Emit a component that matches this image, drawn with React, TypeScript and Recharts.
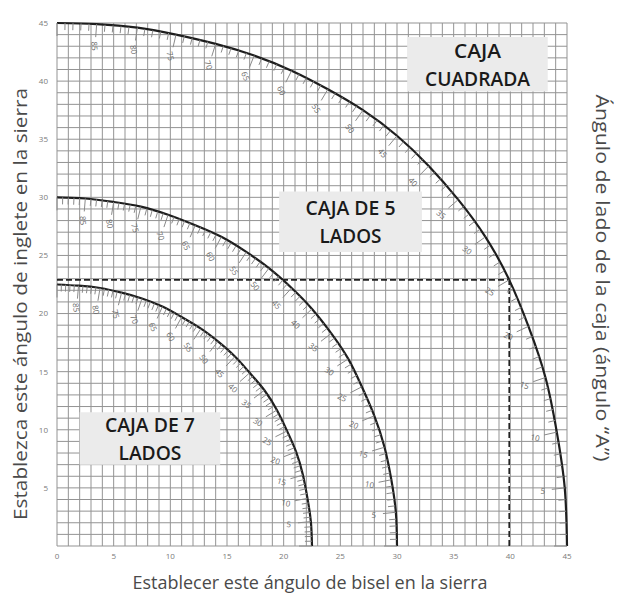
import React from 'react';
import {
    ComposedChart,
    XAxis,
    YAxis,
    CartesianGrid,
    Line,
    Scatter,
    ReferenceArea,
    ReferenceLine,
} from 'recharts';

const W = 620;
const H = 598;
const PLOT_W = 510;
const PLOT_H = 523;
const AXIS_MAX = 45;
const KX = PLOT_W / AXIS_MAX;
const KY = PLOT_H / AXIS_MAX;

const TICK_GRAY = '#7a7a7a';
const CURVE_DARK = '#1e1e1e';
const FONT = "'Open Sans', 'Noto Sans', sans-serif";

// grid every degree, labels every 5
const gridTicks = Array.from({ length: AXIS_MAX + 1 }, (_, i) => i);
const bottomLabels = [0, 5, 10, 15, 20, 25, 30, 35, 40, 45];
const topLabels = [0, 5, 10, 15, 20, 25, 30, 35, 40, 45];
const leftLabels = [5, 10, 15, 20, 25, 30, 35, 40, 45];
const rightLabels = [5, 10, 15, 20, 25, 30, 35, 40];

// side angle "A" of the box at each marked point of the curves
const sideAngles = [0, 5, 10, 15, 20, 25, 30, 35, 40, 45, 50, 55, 60, 65, 70, 75, 80, 85, 90];

// bevel (x) / miter (y) at those angles
const squareBevel = [45, 44.8, 44.1, 43.1, 41.6, 39.9, 37.8, 35.4, 32.8, 30.0, 27.0, 23.9, 20.7, 17.4, 14.0, 10.5, 7.1, 3.5, 0];
const squareMiter = [0, 5.0, 9.8, 14.5, 18.9, 22.9, 26.6, 29.8, 32.7, 35.3, 37.5, 39.3, 40.9, 42.2, 43.2, 44.0, 44.6, 44.9, 45];
const fiveBevel = [30, 29.9, 29.5, 28.9, 28.0, 26.9, 25.7, 24.2, 22.5, 20.7, 18.7, 16.7, 14.5, 12.2, 9.8, 7.4, 5.0, 2.5, 0];
const fiveMiter = [0, 2.9, 5.7, 8.5, 11.2, 13.7, 16.1, 18.3, 20.4, 22.2, 23.9, 25.3, 26.6, 27.6, 28.5, 29.2, 29.6, 29.9, 30];
const sevenBevel = [22.5, 22.4, 22.1, 21.7, 21.1, 20.3, 19.4, 18.3, 17.0, 15.7, 14.2, 12.7, 11.0, 9.3, 7.5, 5.7, 3.8, 1.9, 0];
const sevenMiter = [0, 2.1, 4.1, 6.1, 8.1, 9.9, 11.7, 13.4, 14.9, 16.3, 17.6, 18.7, 19.7, 20.6, 21.3, 21.8, 22.2, 22.4, 22.5];

// the worked example (dashed guide)
const guideBevel = 39.9;
const guideMiter = 22.9;

// label boxes: [x1, x2, y1, y2]
const squareBox = [30.9, 43.3, 39.1, 43.8];
const fiveBox = [19.6, 32.2, 25.3, 30.5];
const sevenBox = [2.0, 14.4, 7.0, 11.5];

const squareText = ['CAJA', 'CUADRADA'];
const fiveText = ['CAJA DE 5', 'LADOS'];
const sevenText = ['CAJA DE 7', 'LADOS'];
// printed width of each line, px
const squareTextWidth = [47, 105];
const fiveTextWidth = [90, 62];
const sevenTextWidth = [90, 63];

type Pt = { x: number; y: number; a: number; major: boolean };

// angle scale along a curve (minor ticks between the read points)
function sideAngleScale(halfAngle: number, a: number) {
    const rad = Math.PI / 180;
    const bevel = Math.asin(Math.cos(a * rad) * Math.sin(halfAngle * rad)) / rad;
    const miter = Math.atan(Math.sin(a * rad) * Math.tan(halfAngle * rad)) / rad;
    return { x: bevel, y: miter };
}

function curvePoints(bevel: number[], miter: number[]) {
    return sideAngles.map((a, i) => ({ x: bevel[i], y: miter[i], a }));
}

function tickPoints(bevel: number[], miter: number[]): Pt[] {
    const out: Pt[] = [];
    for (let a = 0; a <= 90; a++) {
        const idx = sideAngles.indexOf(a);
        if (idx >= 0) {
            out.push({ x: bevel[idx], y: miter[idx], a, major: true });
        } else {
            const p = sideAngleScale(bevel[0], a);
            out.push({ ...p, a, major: false });
        }
    }
    return out;
}

const ArcTick = (props: any) => {
    const { cx, cy, payload } = props;
    if (cx == null || cy == null || !payload) return null;
    const px = payload.x * KX;
    const py = payload.y * KY;
    const len = Math.hypot(px, py) || 1;
    const ux = -px / len;
    const uy = py / len;
    const tl = payload.major ? 13 : 7;
    const theta = (Math.atan2(py, px) * 180) / Math.PI;
    const showLabel = payload.major && payload.a > 0 && payload.a < 90;
    const lx = cx + ux * 22;
    const ly = cy + uy * 22;
    return (
        <g>
            <line x1={cx} y1={cy} x2={cx + ux * tl} y2={cy + uy * tl} stroke="#8a8a8a" strokeWidth={1} />
            {showLabel && (
                <text
                    x={lx}
                    y={ly}
                    transform={`rotate(${theta} ${lx} ${ly})`}
                    textAnchor="middle"
                    dominantBaseline="central"
                    fontSize={8}
                    fontFamily={FONT}
                    fill="#6a6a6a"
                >
                    {payload.a}
                </text>
            )}
        </g>
    );
};

const boxLabel = (lines: string[], widths: number[]) => (props: any) => {
    const vb = props.viewBox || {};
    const cx = vb.x + vb.width / 2;
    const cy = vb.y + vb.height / 2;
    return (
        <g>
            {lines.map((t, i) => (
                <text
                    key={t}
                    x={cx}
                    y={cy + (i - 0.5) * 28}
                    textAnchor="middle"
                    dominantBaseline="central"
                    fontSize={20}
                    fontWeight={600}
                    fontFamily={FONT}
                    fill="#1a1a1a"
                    textLength={widths[i]}
                    lengthAdjust="spacingAndGlyphs"
                >
                    {t}
                </text>
            ))}
        </g>
    );
};

const curves = [
    { key: 'square', bevel: squareBevel, miter: squareMiter },
    { key: 'five', bevel: fiveBevel, miter: fiveMiter },
    { key: 'seven', bevel: sevenBevel, miter: sevenMiter },
];

const boxes = [
    { key: 'sq', box: squareBox, text: squareText, widths: squareTextWidth },
    { key: 'b5', box: fiveBox, text: fiveText, widths: fiveTextWidth },
    { key: 'b7', box: sevenBox, text: sevenText, widths: sevenTextWidth },
];

const tickStyle = { fontSize: 8, fill: TICK_GRAY, fontFamily: FONT };

export default function App() {
    return (
        <div style={{ position: 'absolute', left: 0, top: 0, width: W, height: H, background: '#fff' }}>
            <ComposedChart width={W} height={H} margin={{ top: 3, right: 23, bottom: 32, left: 27 }}>
                <CartesianGrid stroke="#939393" strokeWidth={1} />
                <XAxis
                    type="number"
                    dataKey="x"
                    domain={[0, AXIS_MAX]}
                    ticks={gridTicks}
                    interval={0}
                    height={20}
                    axisLine={false}
                    tickLine={false}
                    tickSize={0}
                    tickMargin={7}
                    tick={tickStyle}
                    tickFormatter={(v) => (bottomLabels.includes(v) ? String(v) : '')}
                />
                <XAxis
                    xAxisId="top"
                    orientation="top"
                    type="number"
                    dataKey="x"
                    domain={[0, AXIS_MAX]}
                    ticks={topLabels}
                    interval={0}
                    height={20}
                    axisLine={false}
                    tickLine={false}
                    tickSize={0}
                    tickMargin={5}
                    tick={tickStyle}
                />
                <YAxis
                    type="number"
                    dataKey="y"
                    domain={[0, AXIS_MAX]}
                    ticks={gridTicks}
                    interval={0}
                    width={30}
                    axisLine={false}
                    tickLine={false}
                    tickSize={0}
                    tickMargin={9}
                    tick={tickStyle}
                    tickFormatter={(v) => (leftLabels.includes(v) ? String(v) : '')}
                />
                <YAxis
                    yAxisId="right"
                    orientation="right"
                    type="number"
                    dataKey="y"
                    domain={[0, AXIS_MAX]}
                    ticks={rightLabels}
                    interval={0}
                    width={30}
                    axisLine={false}
                    tickLine={false}
                    tickSize={0}
                    tickMargin={3}
                    tick={tickStyle}
                />
                {boxes.map((b) => (
                    <ReferenceArea
                        key={b.key}
                        x1={b.box[0]}
                        x2={b.box[1]}
                        y1={b.box[2]}
                        y2={b.box[3]}
                        fill="#ebebeb"
                        fillOpacity={1}
                        stroke="none"
                        label={{ content: boxLabel(b.text, b.widths) }}
                    />
                ))}
                <ReferenceLine
                    segment={[{ x: 0, y: guideMiter }, { x: guideBevel, y: guideMiter }]}
                    stroke="#222"
                    strokeWidth={1.6}
                    strokeDasharray="6 3"
                />
                <ReferenceLine
                    segment={[{ x: guideBevel, y: 0 }, { x: guideBevel, y: guideMiter }]}
                    stroke="#222"
                    strokeWidth={1.6}
                    strokeDasharray="6 3"
                />
                {curves.map((c) => (
                    <Scatter
                        key={`t-${c.key}`}
                        data={tickPoints(c.bevel, c.miter)}
                        dataKey="y"
                        shape={ArcTick}
                        isAnimationActive={false}
                    />
                ))}
                {curves.map((c) => (
                    <Line
                        key={`l-${c.key}`}
                        data={curvePoints(c.bevel, c.miter)}
                        dataKey="y"
                        type="natural"
                        stroke={CURVE_DARK}
                        strokeWidth={2.2}
                        dot={false}
                        activeDot={false}
                        isAnimationActive={false}
                    />
                ))}
            </ComposedChart>
            <svg
                width={W}
                height={H}
                style={{ position: 'absolute', left: 0, top: 0, pointerEvents: 'none' }}
            >
                <text
                    transform="translate(20 304) rotate(-90)"
                    textAnchor="middle"
                    dominantBaseline="central"
                    fontSize={19}
                    fontFamily={FONT}
                    fill="#4a4a4a"
                    textLength={432}
                    lengthAdjust="spacingAndGlyphs"
                >
                    Establezca este ángulo de inglete en la sierra
                </text>
                <text
                    transform="translate(603 278) rotate(90)"
                    textAnchor="middle"
                    dominantBaseline="central"
                    fontSize={19}
                    fontFamily={FONT}
                    fill="#4a4a4a"
                    textLength={367}
                    lengthAdjust="spacingAndGlyphs"
                >
                    Ángulo de lado de la caja (ángulo “A”)
                </text>
                <text
                    x={310}
                    y={582}
                    textAnchor="middle"
                    dominantBaseline="central"
                    fontSize={18}
                    fontFamily={FONT}
                    fill="#4a4a4a"
                    textLength={355}
                    lengthAdjust="spacingAndGlyphs"
                >
                    Establecer este ángulo de bisel en la sierra
                </text>
            </svg>
        </div>
    );
}
